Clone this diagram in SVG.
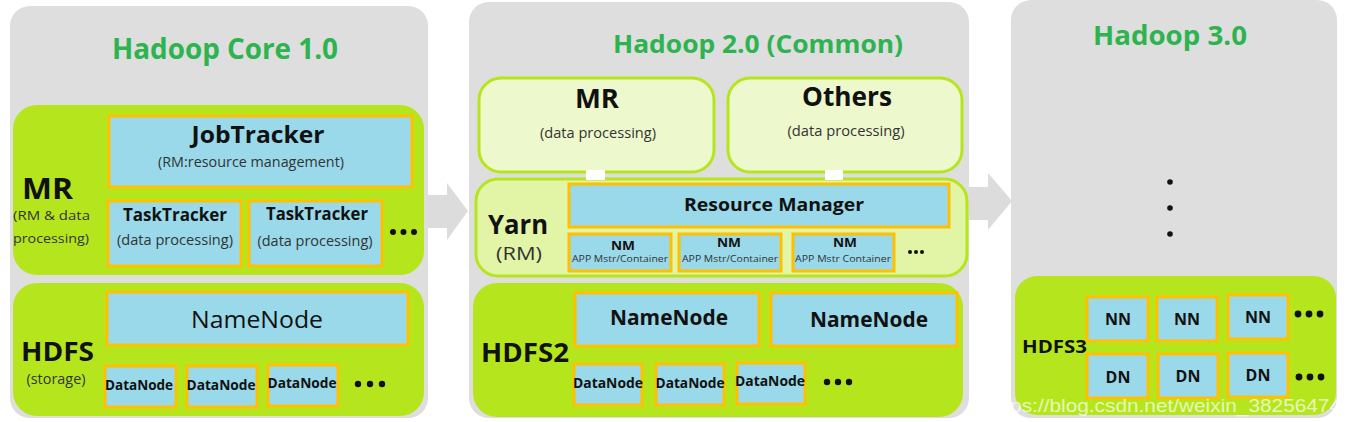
<svg xmlns="http://www.w3.org/2000/svg" width="1348" height="422" viewBox="0 0 1348 422">
<style>
.panel{fill:#dedede}
.green{fill:#b5e61d}
.lg{fill:#eef8cd;stroke:#b5e61d;stroke-width:3}
.yarn{fill:#e2f4a6;stroke:#b5e61d;stroke-width:3}
.box{fill:#99d9ea;stroke:#ffc000;stroke-width:3}
.arrow{fill:#dcdcdc}
text{font-family:"Open Sans","Noto Sans","DejaVu Sans",sans-serif;fill:#111}
.title{fill:#2db34f;font-weight:bold}
.b{font-weight:bold}
.s{fill:#333}
.dot{fill:#111}
.wm{font-family:"Liberation Sans",Arial,sans-serif;fill:#ffffff;fill-opacity:0.7}
</style>
<rect width="1348" height="422" fill="#ffffff"/>
<g id="connectors">
<polygon class="arrow" points="426,195 447,195 447,183 468,211 447,240 447,228 426,228"/>
<polygon class="arrow" points="967,187 988,187 988,173 1012,201 988,230 988,220 967,220"/>
</g>
<g id="panel-hadoop1">
<rect class="panel" x="10" y="6" width="418" height="412" rx="20"/>
<text class="title" x="225" y="59" font-size="28" text-anchor="middle" textLength="226" lengthAdjust="spacingAndGlyphs">Hadoop Core 1.0</text>
</g>
<g id="mr1">
<rect class="green" x="13" y="105" width="411" height="170" rx="24"/>
<text class="b" x="22" y="199" font-size="28" textLength="51" lengthAdjust="spacingAndGlyphs">MR</text>
<text class="s" x="13" y="220" font-size="13" textLength="77" lengthAdjust="spacingAndGlyphs">(RM &amp; data</text>
<text class="s" x="13" y="243" font-size="13.5" textLength="76" lengthAdjust="spacingAndGlyphs">processing)</text>
</g>
<g id="jobtracker">
<rect class="box" x="109" y="116" width="303" height="71"/>
<text class="b" x="258" y="143" font-size="24" text-anchor="middle" textLength="133" lengthAdjust="spacingAndGlyphs">JobTracker</text>
<text class="s" x="251" y="167" font-size="14" text-anchor="middle" textLength="186" lengthAdjust="spacingAndGlyphs">(RM:resource management)</text>
</g>
<g id="tasktracker1">
<rect class="box" x="108" y="201" width="133" height="65"/>
<text class="b" x="175" y="221" font-size="18" text-anchor="middle" textLength="104" lengthAdjust="spacingAndGlyphs">TaskTracker</text>
<text class="s" x="175" y="245" font-size="14" text-anchor="middle" textLength="116" lengthAdjust="spacingAndGlyphs">(data processing)</text>
</g>
<g id="tasktracker2">
<rect class="box" x="249" y="201" width="133" height="65"/>
<text class="b" x="317" y="220" font-size="18" text-anchor="middle" textLength="102" lengthAdjust="spacingAndGlyphs">TaskTracker</text>
<text class="s" x="315" y="246" font-size="14" text-anchor="middle" textLength="115" lengthAdjust="spacingAndGlyphs">(data processing)</text>
</g>
<g id="tt-more">
<circle class="dot" cx="393" cy="232" r="3"/><circle class="dot" cx="403.5" cy="232" r="3"/><circle class="dot" cx="414" cy="232" r="3"/>
</g>
<g id="hdfs1">
<rect class="green" x="13" y="283" width="411" height="133" rx="24"/>
<text class="b" x="21" y="361" font-size="26" textLength="73" lengthAdjust="spacingAndGlyphs">HDFS</text>
<text class="s" x="56" y="384" font-size="14" text-anchor="middle" textLength="59" lengthAdjust="spacingAndGlyphs">(storage)</text>
</g>
<g id="namenode1">
<rect class="box" x="107" y="292" width="301" height="53"/>
<text x="257" y="328" font-size="23" text-anchor="middle" textLength="132" lengthAdjust="spacingAndGlyphs">NameNode</text>
</g>
<g id="datanode1a">
<rect class="box" x="105" y="366" width="71" height="41"/>
<text class="b" x="139" y="390" font-size="13.5" text-anchor="middle" textLength="68" lengthAdjust="spacingAndGlyphs">DataNode</text>
</g>
<g id="datanode1b">
<rect class="box" x="187" y="366" width="70" height="41"/>
<text class="b" x="221" y="390" font-size="13.5" text-anchor="middle" textLength="69" lengthAdjust="spacingAndGlyphs">DataNode</text>
</g>
<g id="datanode1c">
<rect class="box" x="268" y="365" width="70" height="41"/>
<text class="b" x="302" y="388" font-size="13.5" text-anchor="middle" textLength="69" lengthAdjust="spacingAndGlyphs">DataNode</text>
</g>
<g id="dn1-more">
<circle class="dot" cx="358" cy="384" r="3.2"/><circle class="dot" cx="370" cy="384" r="3.2"/><circle class="dot" cx="382" cy="384" r="3.2"/>
</g>
<g id="panel-hadoop2">
<rect class="panel" x="469" y="2" width="500" height="416" rx="20"/>
<text class="title" x="758" y="53" font-size="25" text-anchor="middle" textLength="290" lengthAdjust="spacingAndGlyphs">Hadoop 2.0 (Common)</text>
</g>
<g id="mr2">
<rect class="lg" x="479" y="78" width="235" height="94" rx="22"/>
<text class="b" x="597" y="108" font-size="27" text-anchor="middle" textLength="44" lengthAdjust="spacingAndGlyphs">MR</text>
<text class="s" x="598" y="138" font-size="14" text-anchor="middle" textLength="116" lengthAdjust="spacingAndGlyphs">(data processing)</text>
</g>
<g id="others">
<rect class="lg" x="728" y="78" width="234" height="94" rx="22"/>
<text class="b" x="847" y="106" font-size="27" text-anchor="middle" textLength="90" lengthAdjust="spacingAndGlyphs">Others</text>
<text class="s" x="846" y="136" font-size="14" text-anchor="middle" textLength="117" lengthAdjust="spacingAndGlyphs">(data processing)</text>
</g>
<g id="yarn">
<rect class="yarn" x="476" y="179" width="491" height="97" rx="22"/>
<text class="b" x="488" y="234" font-size="27" textLength="60" lengthAdjust="spacingAndGlyphs">Yarn</text>
<text class="s" x="519" y="260" font-size="19" text-anchor="middle" textLength="46" lengthAdjust="spacingAndGlyphs">(RM)</text>
</g>
<g id="mr-yarn-links">
<rect x="586" y="170" width="19" height="10" fill="#ffffff"/>
<rect x="825" y="170" width="18" height="10" fill="#ffffff"/>
</g>
<g id="resourcemanager">
<rect class="box" x="569" y="184" width="380" height="43"/>
<text class="b" x="774" y="211" font-size="18" text-anchor="middle" textLength="180" lengthAdjust="spacingAndGlyphs">Resource Manager</text>
</g>
<g id="nm1">
<rect class="box" x="569" y="234" width="102" height="37"/>
<text class="b" x="623" y="250" font-size="13" text-anchor="middle" textLength="24" lengthAdjust="spacingAndGlyphs">NM</text>
<text class="s" x="620" y="262" font-size="9.5" text-anchor="middle" textLength="96" lengthAdjust="spacingAndGlyphs">APP Mstr/Container</text>
</g>
<g id="nm2">
<rect class="box" x="679" y="234" width="102" height="37"/>
<text class="b" x="729" y="247" font-size="13" text-anchor="middle" textLength="24" lengthAdjust="spacingAndGlyphs">NM</text>
<text class="s" x="730" y="262" font-size="9.5" text-anchor="middle" textLength="96" lengthAdjust="spacingAndGlyphs">APP Mstr/Container</text>
</g>
<g id="nm3">
<rect class="box" x="793" y="234" width="101" height="37"/>
<text class="b" x="845" y="247" font-size="13" text-anchor="middle" textLength="24" lengthAdjust="spacingAndGlyphs">NM</text>
<text class="s" x="843" y="262" font-size="9.5" text-anchor="middle" textLength="96" lengthAdjust="spacingAndGlyphs">APP Mstr Container</text>
</g>
<g id="nm-more">
<circle class="dot" cx="910" cy="252" r="2"/><circle class="dot" cx="916" cy="252" r="2"/><circle class="dot" cx="922" cy="252" r="2"/>
</g>
<g id="hdfs2">
<rect class="green" x="473" y="283" width="490" height="134" rx="24"/>
<text class="b" x="481" y="362" font-size="27" textLength="88" lengthAdjust="spacingAndGlyphs">HDFS2</text>
</g>
<g id="namenode2a">
<rect class="box" x="575" y="293" width="184" height="53"/>
<text class="b" x="669" y="325" font-size="21" text-anchor="middle" textLength="118" lengthAdjust="spacingAndGlyphs">NameNode</text>
</g>
<g id="namenode2b">
<rect class="box" x="771" y="293" width="186" height="53"/>
<text class="b" x="869" y="327" font-size="21" text-anchor="middle" textLength="118" lengthAdjust="spacingAndGlyphs">NameNode</text>
</g>
<g id="datanode2a">
<rect class="box" x="574" y="364" width="68" height="41"/>
<text class="b" x="608" y="388" font-size="13.5" text-anchor="middle" textLength="70" lengthAdjust="spacingAndGlyphs">DataNode</text>
</g>
<g id="datanode2b">
<rect class="box" x="656" y="364" width="68" height="41"/>
<text class="b" x="690" y="388" font-size="13.5" text-anchor="middle" textLength="69" lengthAdjust="spacingAndGlyphs">DataNode</text>
</g>
<g id="datanode2c">
<rect class="box" x="737" y="363" width="68" height="41"/>
<text class="b" x="770" y="386" font-size="13.5" text-anchor="middle" textLength="70" lengthAdjust="spacingAndGlyphs">DataNode</text>
</g>
<g id="dn2-more">
<circle class="dot" cx="827" cy="382" r="3.2"/><circle class="dot" cx="838" cy="382" r="3.2"/><circle class="dot" cx="849" cy="382" r="3.2"/>
</g>
<g id="panel-hadoop3">
<rect class="panel" x="1011" y="0" width="326" height="418" rx="20"/>
<text class="title" x="1170" y="45" font-size="26" text-anchor="middle" textLength="154" lengthAdjust="spacingAndGlyphs">Hadoop 3.0</text>
<circle class="dot" cx="1170" cy="182" r="2.8"/><circle class="dot" cx="1170" cy="208" r="2.8"/><circle class="dot" cx="1170" cy="234" r="2.8"/>
</g>
<g id="hdfs3">
<rect class="green" x="1015" y="276" width="321" height="139" rx="22"/>
<text class="b" x="1022" y="353" font-size="18" textLength="65" lengthAdjust="spacingAndGlyphs">HDFS3</text>
</g>
<g id="nn1"><rect class="box" x="1087" y="297" width="61" height="44"/><text class="b" x="1118" y="325" font-size="16" text-anchor="middle">NN</text></g>
<g id="nn2"><rect class="box" x="1157" y="297" width="60" height="44"/><text class="b" x="1187" y="325" font-size="16" text-anchor="middle">NN</text></g>
<g id="nn3"><rect class="box" x="1228" y="295" width="60" height="44"/><text class="b" x="1258" y="323" font-size="16" text-anchor="middle">NN</text></g>
<g id="dn1"><rect class="box" x="1087" y="354" width="61" height="44"/><text class="b" x="1118" y="383" font-size="16" text-anchor="middle">DN</text></g>
<g id="dn2"><rect class="box" x="1158" y="354" width="60" height="44"/><text class="b" x="1188" y="382" font-size="16" text-anchor="middle">DN</text></g>
<g id="dn3"><rect class="box" x="1228" y="353" width="60" height="44"/><text class="b" x="1258" y="381" font-size="16" text-anchor="middle">DN</text></g>
<g id="nn-more">
<circle class="dot" cx="1298" cy="314" r="3.4"/><circle class="dot" cx="1309" cy="314" r="3.4"/><circle class="dot" cx="1320" cy="314" r="3.4"/>
</g>
<g id="dn-more">
<circle class="dot" cx="1299" cy="377" r="3.4"/><circle class="dot" cx="1310" cy="377" r="3.4"/><circle class="dot" cx="1321" cy="377" r="3.4"/>
</g>
<text class="wm" x="987" y="412" font-size="19" textLength="354" lengthAdjust="spacingAndGlyphs">https://blog.csdn.net/weixin_38256474</text>
</svg>
